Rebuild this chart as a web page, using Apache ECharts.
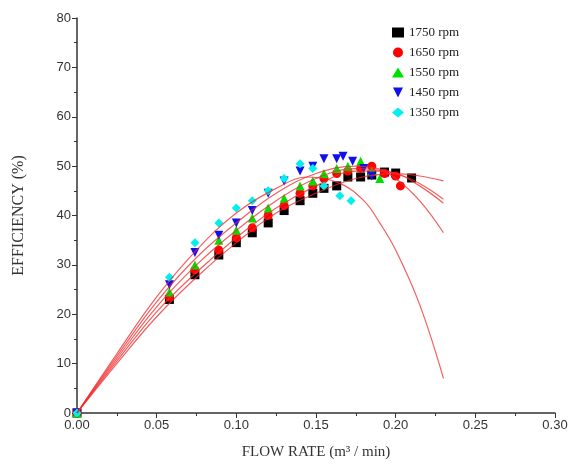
<!DOCTYPE html>
<html>
<head>
<meta charset="utf-8">
<script src="https://cdn.jsdelivr.net/npm/echarts@6/dist/echarts.min.js"></script>
<style>
  html, body { margin: 0; padding: 0; background: #fff; }
  #chart { width: 585px; height: 470px; }
</style>
</head>
<body>
<div id="chart"></div>
<script>
// measured points [flow rate, efficiency]
const rpm1750 = [[0,0],[0.058,23],[0.074,28],[0.089,32],[0.1,34.5],[0.11,36.5],[0.12,38.5],[0.13,41],[0.14,43],[0.148,44.5],[0.155,45.5],[0.163,46],[0.17,47.8],[0.178,47.8],[0.185,48.2],[0.193,48.8],[0.2,48.6],[0.21,47.6]];
const rpm1650 = [[0,0],[0.058,23.5],[0.074,29],[0.089,33],[0.1,35.5],[0.11,37.5],[0.12,40],[0.13,42],[0.14,44.5],[0.148,46],[0.155,47.5],[0.163,48.5],[0.17,49],[0.178,49.5],[0.185,50],[0.193,48.5],[0.2,48],[0.203,46]];
const rpm1550 = [[0,0],[0.058,24.5],[0.074,30],[0.089,35],[0.1,37],[0.11,39.5],[0.12,41.5],[0.13,43.5],[0.14,46],[0.148,47],[0.155,48.5],[0.163,49.5],[0.17,50],[0.178,51],[0.185,49],[0.19,47.5]];
const rpm1450 = [[0,0],[0.058,26],[0.074,32.5],[0.089,36],[0.1,38.5],[0.11,41],[0.12,44.5],[0.13,47],[0.14,49],[0.148,50],[0.155,51.5],[0.163,51.5],[0.167,52],[0.173,51],[0.18,49.5],[0.185,48]];
const rpm1350 = [[0,0],[0.058,27.5],[0.074,34.5],[0.089,38.5],[0.1,41.5],[0.11,43],[0.12,45],[0.13,47.5],[0.14,50.5],[0.148,49.5],[0.155,46],[0.165,44],[0.172,43]];

// fitted curves
const fit1750 = [[0,0],[0.025,10],[0.05,19.5],[0.075,27.5],[0.1,34.5],[0.125,40.5],[0.15,44.5],[0.175,47.5],[0.2,48.5],[0.215,48],[0.23,47]];
const fit1650 = [[0,0],[0.025,10.5],[0.05,20.5],[0.075,28.5],[0.1,35.5],[0.125,41.5],[0.15,46],[0.175,49],[0.19,49],[0.2,47.5],[0.215,43],[0.23,36.5]];
const fit1550 = [[0,0],[0.025,11],[0.05,21.5],[0.075,30],[0.1,37],[0.125,43],[0.15,47.5],[0.175,49.5],[0.2,48.5],[0.215,46],[0.23,42.5]];
const fit1450 = [[0,0],[0.025,11.5],[0.05,22.5],[0.075,31.5],[0.1,38.5],[0.125,44.5],[0.15,48.5],[0.175,50],[0.2,48.5],[0.215,46.5],[0.23,43.3]];
const fit1350 = [[0,0],[0.025,12],[0.05,23.5],[0.075,33],[0.1,40.5],[0.125,45.5],[0.145,47.8],[0.165,46.5],[0.18,43],[0.19,38.5],[0.2,33],[0.215,22],[0.23,7]];

const names = ["1750 rpm", "1650 rpm", "1550 rpm", "1450 rpm", "1350 rpm"];
const colors = ["#000000", "#ff0000", "#00e000", "#1010e8", "#00f0f0"];
const symbols = ["rect", "circle", "triangle", "path://M0,0 L10,0 L5,10 Z", "diamond"];
const points = [rpm1750, rpm1650, rpm1550, rpm1450, rpm1350];
const fits = [fit1750, fit1650, fit1550, fit1450, fit1350];

let series = [];
fits.forEach((f, i) => {
  series.push({
    name: "fit" + i,
    type: "line",
    data: f,
    smooth: 0.4,
    symbol: "none",
    z: 5,
    lineStyle: { color: "rgba(240,40,40,0.75)", width: 1.2 }
  });
});
points.forEach((p, i) => {
  series.push({
    name: names[i],
    type: "scatter",
    data: p,
    symbol: symbols[i],
    symbolSize: 9,
    z: 3,
    itemStyle: { color: colors[i], opacity: 1 }
  });
});

let myChart = echarts.init(document.getElementById("chart"));
let option = {
  backgroundColor: "#fff",
  animation: false,
  grid: { left: 77, right: 30, top: 18, bottom: 57 },
  legend: {
    data: names,
    orient: "vertical",
    left: 387,
    top: 21,
    itemGap: 7,
    itemWidth: 12,
    itemHeight: 10,
    textStyle: { fontFamily: "Liberation Serif", fontSize: 13, color: "#222" }
  },
  xAxis: {
    type: "value",
    min: 0,
    max: 0.3,
    interval: 0.05,
    name: "FLOW RATE (m³ / min)",
    nameLocation: "middle",
    nameGap: 32,
    nameTextStyle: { fontFamily: "Liberation Serif", fontSize: 15, color: "#333" },
    axisLine: { onZero: false, lineStyle: { color: "#333", width: 1.5 } },
    axisTick: { length: 5, lineStyle: { color: "#333" } },
    minorTick: { show: true, splitNumber: 2, length: 3, lineStyle: { color: "#333" } },
    axisLabel: { color: "#333", fontSize: 13, fontFamily: "Liberation Sans", formatter: v => v.toFixed(2), margin: 6 },
    splitLine: { show: false }
  },
  yAxis: {
    type: "value",
    min: 0,
    max: 80,
    interval: 10,
    name: "EFFICIENCY (%)",
    nameLocation: "middle",
    nameGap: 50,
    nameTextStyle: { fontFamily: "Liberation Serif", fontSize: 16, color: "#333" },
    axisLine: { show: true, onZero: false, lineStyle: { color: "#333", width: 1.5 } },
    axisTick: { show: true, length: 5, lineStyle: { color: "#333" } },
    minorTick: { show: true, splitNumber: 2, length: 3, lineStyle: { color: "#333" } },
    axisLabel: { color: "#333", fontSize: 13, fontFamily: "Liberation Sans", margin: 6 },
    splitLine: { show: false }
  },
  series: series
};
myChart.setOption(option);
</script>
</body>
</html>
